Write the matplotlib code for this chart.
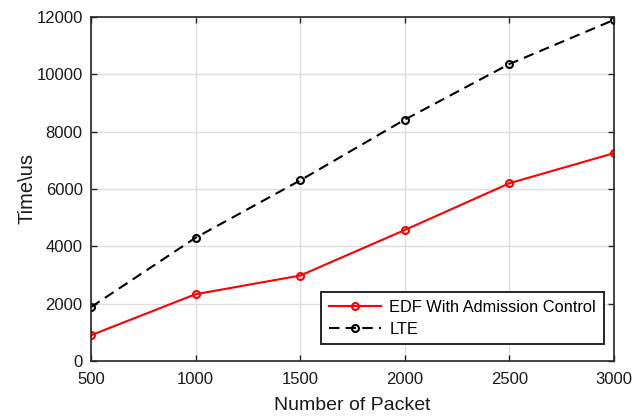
import numpy as np
import matplotlib.pyplot as plt

plt.rcParams['font.family'] = ['Liberation Sans', 'DejaVu Sans']

packets = [500, 1000, 1500, 2000, 2500, 3000]
edf_time = [900, 2330, 2980, 4570, 6200, 7250]
lte_time = [1880, 4300, 6300, 8420, 10360, 11900]

fig = plt.figure(figsize=(6.42, 4.17), dpi=100)
ax = fig.add_axes([91 / 642, 56 / 417, 523 / 642, 344 / 417])

ax.plot(packets, edf_time, color='red', lw=1.5, marker='o', ms=5,
        mfc='none', mew=1.5, label='EDF With Admission Control')
ax.plot(packets, lte_time, color='black', lw=1.5, ls='--', dashes=(5, 3),
        marker='o', ms=5, mfc='none', mew=1.5, label='LTE')

ax.set_xlim(500, 3000)
ax.set_ylim(0, 12000)
ax.set_xticks(packets)
ax.set_yticks(np.arange(0, 12001, 2000))
ax.grid(True, color='#dedede', lw=1)
ax.set_axisbelow(True)
ax.tick_params(direction='in', top=True, right=True, labelsize=12, length=4,
               width=1, color='#262626', labelcolor='#1a1a1a')
ax.tick_params(axis='x', pad=8)
ax.tick_params(axis='y', pad=6)
for s in ax.spines.values():
    s.set_linewidth(1.2)
    s.set_color('#262626')

ax.set_xlabel('Number of Packet', fontsize=14, labelpad=7, color='#1a1a1a')
ax.set_ylabel('Time\\us', fontsize=14.5, labelpad=0, color='#1a1a1a')

leg = ax.legend(loc='lower right', bbox_to_anchor=(0.98, 0.048), borderaxespad=0,
                fontsize=11.8, fancybox=False, framealpha=1, edgecolor='#262626',
                handlelength=3.2, handletextpad=0.5, borderpad=0.45,
                labelspacing=0.45)
leg.get_frame().set_linewidth(1.4)

fig.savefig('out.png', dpi=100)
